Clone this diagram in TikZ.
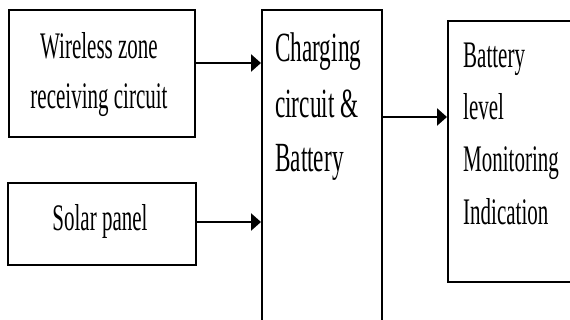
\documentclass[tikz,border=0pt]{standalone}
\usepackage{fontspec}
\setmainfont[FakeStretch=0.56]{Liberation Serif}
\usetikzlibrary{arrows.meta}
\begin{document}
\begin{tikzpicture}[x=1pt,y=-1pt,
  box/.style={draw, line width=2pt, rectangle, inner sep=0pt},
  lbl/.style={font=\fontsize{37.5}{44}\selectfont, inner sep=0pt},
  biglbl/.style={font=\fontsize{41.5}{48}\selectfont, inner sep=0pt},
  arr/.style={line width=2.5pt, -{Triangle[length=10pt,width=17pt]}}]
\useasboundingbox (0,0) rectangle (570,320);
\fill[white] (0,0) rectangle (570,320);
% boxes
\node[box, minimum width=186pt, minimum height=127pt] (wz) at (102,73.5) {};
\node[box, minimum width=188pt, minimum height=82pt] (sp) at (102,224) {};
\node[box, minimum width=120pt, minimum height=330pt] (chg) at (322,175) {};
\node[box, minimum width=140pt, minimum height=261pt] (mon) at (518,151.5) {};
% texts
\node[lbl, anchor=base] (wz1) at (99,59) {Wireless zone};
\node[lbl, anchor=base] (wz2) at (99,109) {receiving circuit};
\node[lbl, anchor=base] (sp1) at (100,231) {Solar panel};
\node[biglbl, anchor=base west] (chg1) at (275,62) {Charging};
\node[biglbl, anchor=base west] (chg2) at (275,118) {circuit \&};
\node[biglbl, anchor=base west] (chg3) at (275,172) {Battery};
\node[lbl, anchor=base west] (mon1) at (463,68) {Battery};
\node[lbl, anchor=base west] (mon2) at (463,120) {level};
\node[lbl, anchor=base west] (mon3) at (463,172) {Monitoring};
\node[lbl, anchor=base west] (mon4) at (463,225) {Indication};
% connectors
\coordinate (a1) at (0,63);
\coordinate (a2) at (0,222);
\coordinate (a3) at (0,117);
\draw[arr] (wz.east |- a1) -- (chg.west |- a1);
\draw[arr] (sp.east |- a2) -- (chg.west |- a2);
\draw[arr] (chg.east |- a3) -- (mon.west |- a3);
\end{tikzpicture}
\end{document}
